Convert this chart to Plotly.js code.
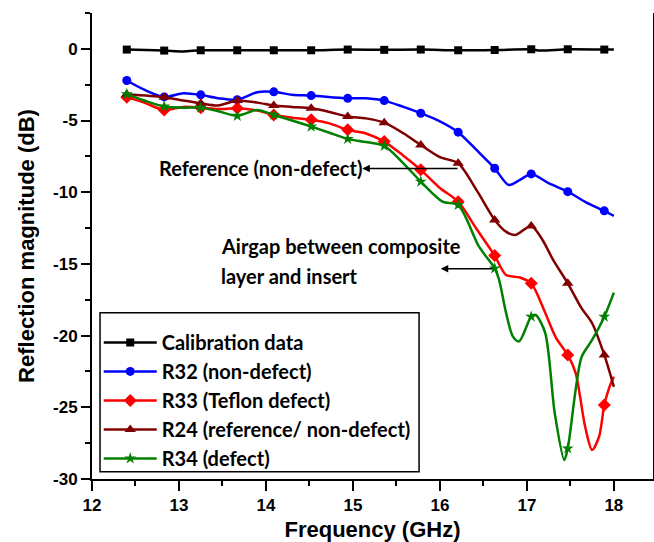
<!DOCTYPE html>
<html>
<head>
<meta charset="utf-8">
<script src="https://cdn.plot.ly/plotly-3.0.1.min.js"></script>
<style>
  html, body { margin: 0; padding: 0; background: #ffffff; }
  #chart { width: 654px; height: 542px; }
</style>
</head>
<body>
<div id="chart"></div>
<script>
// Frequencies (GHz) where the symbols of every sweep are placed
const markerFreq = [12.40, 12.83, 13.25, 13.67, 14.09, 14.52, 14.94, 15.36, 15.78, 16.21, 16.63, 17.05, 17.47, 17.89];

// Calibration data
const calFreq = [12.40, 12.83, 13.05, 13.25, 13.67, 14.09, 14.52, 14.94, 15.36, 15.78, 16.21, 16.63, 17.05, 17.15, 17.47, 17.89, 18.00];
const calDb   = [-0.05, -0.12, -0.18, -0.10, -0.10, -0.10, -0.10, -0.05, -0.07, -0.05, -0.10, -0.08, -0.03, -0.12, -0.03, -0.05, -0.05];

// R32 (non-defect)
const r32Freq = [12.40, 12.60, 12.83, 13.05, 13.25, 13.45, 13.67, 13.90, 14.09, 14.30, 14.52, 14.94, 15.15, 15.36, 15.58, 15.78, 16.00, 16.21, 16.42, 16.63, 16.79, 16.92, 17.05, 17.25, 17.47, 17.68, 17.89, 18.00];
const r32Db   = [-2.21, -2.85, -3.35, -3.09, -3.21, -3.44, -3.55, -3.02, -3.00, -3.20, -3.26, -3.45, -3.45, -3.61, -4.05, -4.49, -5.05, -5.81, -7.05, -8.33, -9.49, -9.14, -8.72, -9.37, -9.96, -10.70, -11.30, -11.65];

// R33 (Teflon defect)
const r33Freq = [12.40, 12.60, 12.83, 13.05, 13.25, 13.45, 13.67, 13.90, 14.09, 14.30, 14.52, 14.73, 14.94, 15.15, 15.36, 15.58, 15.78, 16.00, 16.21, 16.42, 16.63, 16.76, 16.92, 17.05, 17.21, 17.33, 17.47, 17.56, 17.67, 17.75, 17.83, 17.89, 17.95, 18.00];
const r33Db   = [-3.37, -3.75, -4.26, -4.05, -4.10, -4.20, -4.14, -4.30, -4.61, -4.80, -4.95, -5.20, -5.65, -5.90, -6.47, -7.45, -8.44, -9.70, -10.66, -12.55, -14.42, -15.77, -15.95, -16.35, -18.40, -20.10, -21.35, -22.60, -26.36, -27.98, -27.05, -24.84, -23.57, -22.87];

// R24 (reference/ non-defect)
const r24Freq = [12.40, 12.83, 13.05, 13.25, 13.45, 13.67, 13.90, 14.09, 14.30, 14.52, 14.73, 14.94, 15.15, 15.36, 15.58, 15.78, 16.00, 16.21, 16.42, 16.63, 16.76, 16.87, 17.05, 17.18, 17.30, 17.47, 17.63, 17.75, 17.89, 18.00];
const r24Db   = [-3.16, -3.37, -3.60, -3.80, -3.95, -3.60, -3.75, -3.95, -4.05, -4.15, -4.40, -4.72, -4.85, -5.15, -5.89, -6.70, -7.55, -7.98, -9.84, -11.93, -12.75, -12.98, -12.35, -13.33, -14.70, -16.35, -18.10, -19.14, -21.35, -23.57];

// R34 (defect)
const r34Freq = [12.40, 12.60, 12.83, 13.05, 13.25, 13.45, 13.67, 13.90, 14.09, 14.30, 14.52, 14.73, 14.94, 15.15, 15.36, 15.58, 15.78, 16.03, 16.21, 16.45, 16.63, 16.68, 16.76, 16.84, 16.91, 17.05, 17.10, 17.21, 17.32, 17.43, 17.47, 17.56, 17.63, 17.75, 17.89, 18.00];
const r34Db   = [-3.16, -3.60, -4.02, -4.10, -4.10, -4.35, -4.67, -4.26, -4.61, -5.00, -5.42, -5.85, -6.28, -6.50, -6.77, -7.98, -9.26, -10.66, -10.89, -13.80, -15.31, -16.10, -18.40, -20.07, -20.40, -18.68, -18.56, -19.80, -25.40, -28.68, -27.87, -23.80, -21.47, -20.30, -18.68, -17.00];

// Names, colours and symbols of the five sweeps
const seriesNames   = ['Calibration data', 'R32 (non-defect)', 'R33 (Teflon defect)', 'R24 (reference/ non-defect)', 'R34 (defect)'];
const seriesColors  = ['#000000', '#0000ff', '#ff0000', '#800000', '#008000'];
const seriesSymbols = ['square', 'circle', 'diamond', 'triangle-up', 'star'];
const seriesSizes   = [8, 9, 10, 10, 9];
const seriesFreq    = [calFreq, r32Freq, r33Freq, r24Freq, r34Freq];
const seriesDb      = [calDb, r32Db, r33Db, r24Db, r34Db];

// Y tick labels written with a plain hyphen
const yTickVals = [-30, -25, -20, -15, -10, -5, 0];
const yTickText = ['-30', '-25', '-20', '-15', '-10', '-5', '0'];

const TRANSPARENT = 'rgba(0,0,0,0)';

// Each sweep is one smooth line; only the points at markerFreq get a visible symbol
const traces = seriesNames.map(function (name, i) {
  const colors = seriesFreq[i].map(function (f) {
    return markerFreq.some(function (m) { return Math.abs(m - f) < 1e-6; }) ? seriesColors[i] : TRANSPARENT;
  });
  return {
    type: 'scatter',
    mode: 'lines+markers',
    name: name,
    x: seriesFreq[i],
    y: seriesDb[i],
    line: { color: seriesColors[i], width: 2.5, shape: 'spline', smoothing: 0.8 },
    marker: { symbol: seriesSymbols[i], size: seriesSizes[i], color: colors, line: { width: 0 } },
    hoverinfo: 'x+y+name'
  };
});

const tickFont  = { family: 'Liberation Sans, Arial, sans-serif', size: 17, color: '#000', weight: 'bold' };
const titleFont = { family: 'Liberation Sans, Arial, sans-serif', size: 22, color: '#000', weight: 'bold' };
const noteFont  = { family: 'Lato, Calibri, sans-serif', size: 20, color: '#000', weight: 'bold' };

const layout = {
  width: 654,
  height: 542,
  margin: { l: 92, r: 1, t: 13, b: 63 },
  paper_bgcolor: '#ffffff',
  plot_bgcolor: '#ffffff',
  showlegend: true,
  xaxis: {
    range: [12, 18.45],
    dtick: 1,
    tick0: 12,
    ticks: 'outside',
    ticklen: 10,
    tickwidth: 2,
    tickcolor: '#000',
    minor: { dtick: 0.5, ticks: 'outside', ticklen: 5, tickwidth: 2, tickcolor: '#000' },
    showline: true,
    linewidth: 2,
    linecolor: '#000',
    showgrid: false,
    zeroline: false,
    tickfont: tickFont,
    title: { text: 'Frequency (GHz)', font: titleFont, standoff: 10 }
  },
  xaxis2: {
    overlaying: 'x',
    anchor: 'y',
    side: 'top',
    range: [12, 18.45],
    dtick: 1,
    tick0: 12,
    ticks: 'inside',
    ticklen: 10,
    tickwidth: 2,
    tickcolor: '#000',
    minor: { dtick: 0.5, ticks: 'inside', ticklen: 5, tickwidth: 2, tickcolor: '#000' },
    showticklabels: false,
    showline: true,
    linewidth: 2,
    linecolor: '#000',
    showgrid: false,
    zeroline: false
  },
  yaxis: {
    range: [-30, 2.5],
    tickvals: yTickVals,
    ticktext: yTickText,
    ticks: 'outside',
    ticklen: 9,
    tickwidth: 2,
    tickcolor: '#000',
    minor: { dtick: 2.5, ticks: 'outside', ticklen: 5, tickwidth: 2, tickcolor: '#000' },
    showline: true,
    mirror: true,
    linewidth: 2,
    linecolor: '#000',
    showgrid: false,
    zeroline: false,
    tickfont: tickFont,
    title: { text: 'Reflection magnitude (dB)', font: titleFont, standoff: 12 }
  },
  legend: {
    x: 0.012,
    y: 0.335,
    xanchor: 'left',
    yanchor: 'top',
    bgcolor: 'rgba(0,0,0,0)',
    borderwidth: 0,
    font: noteFont,
    itemwidth: 53,
    tracegroupgap: 0
  },
  shapes: [
    // legend frame
    { type: 'rect', xref: 'paper', yref: 'paper', x0: 0.0143, x1: 0.583, y0: 0.0157, y1: 0.357,
      line: { color: '#000', width: 1.5 }, fillcolor: 'rgba(0,0,0,0)' }
  ],
  annotations: [
    { x: 12.745, y: -8.30, xref: 'x', yref: 'y', text: 'Reference (non-defect)', showarrow: false,
      xanchor: 'left', yanchor: 'middle', font: noteFont },
    { x: 15.108, y: -8.34, ax: 16.22, ay: -8.34, xref: 'x', yref: 'y', axref: 'x', ayref: 'y',
      text: '', showarrow: true, arrowhead: 2, arrowsize: 1, arrowwidth: 1.5, arrowcolor: '#000' },
    { x: 13.456, y: -13.78, xref: 'x', yref: 'y', text: 'Airgap between composite', showarrow: false,
      xanchor: 'left', yanchor: 'middle', font: noteFont },
    { x: 13.456, y: -15.87, xref: 'x', yref: 'y', text: 'layer and insert', showarrow: false,
      xanchor: 'left', yanchor: 'middle', font: noteFont },
    { x: 16.01, y: -15.33, ax: 16.62, ay: -15.33, xref: 'x', yref: 'y', axref: 'x', ayref: 'y',
      text: '', showarrow: true, arrowhead: 2, arrowsize: 1, arrowwidth: 1.5, arrowcolor: '#000' }
  ]
};

Plotly.newPlot('chart', traces, layout, { displayModeBar: false, staticPlot: true });
</script>
</body>
</html>
